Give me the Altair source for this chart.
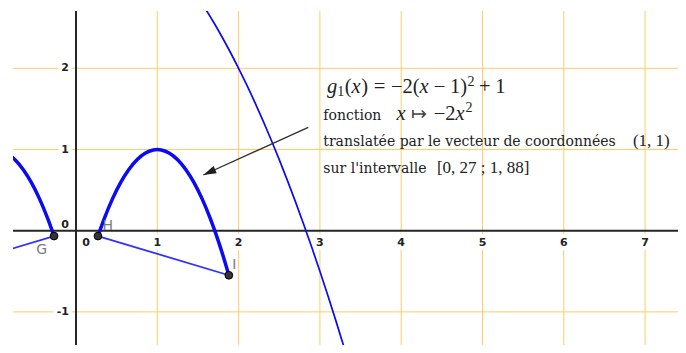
import altair as alt
import pandas as pd

# ---------------- values ----------------
# thin steep curve
thin_x = [1.5, 1.6, 1.7, 1.8, 1.9, 2.0, 2.1, 2.2, 2.3, 2.4, 2.5, 2.6, 2.7, 2.8, 2.9, 3.0, 3.1, 3.2, 3.3, 3.4]
thin_y = [2.875, 2.72, 2.555, 2.38, 2.195, 2.0, 1.795, 1.58, 1.355, 1.12, 0.875, 0.62, 0.355, 0.08,
          -0.205, -0.5, -0.805, -1.12, -1.445, -1.78]

# thick arc g1 on [0.27 ; 1.88]
g1_x = [0.27, 0.35, 0.45, 0.55, 0.65, 0.75, 0.85, 0.95, 1.0, 1.05, 1.15, 1.25, 1.35, 1.45, 1.55, 1.65, 1.75, 1.82, 1.88]
g1_y = [-0.066, 0.155, 0.395, 0.595, 0.755, 0.875, 0.955, 0.995, 1.0, 0.995, 0.955, 0.875, 0.755, 0.595,
        0.395, 0.155, -0.125, -0.345, -0.549]

# thick arc on the left (ends at G)
left_x = [-1.0, -0.95, -0.85, -0.75, -0.65, -0.55, -0.45, -0.35, -0.27]
left_y = [1.0, 0.995, 0.955, 0.875, 0.755, 0.595, 0.395, 0.155, -0.066]

# segments
seg_left_x = [-1.88, -0.27]
seg_left_y = [-0.549, -0.066]
seg_hi_x = [0.27, 1.88]
seg_hi_y = [-0.066, -0.549]

# points
pt_names = ["G", "H", "I"]
pt_x = [-0.27, 0.27, 1.88]
pt_y = [-0.066, -0.066, -0.549]
pt_label_x = [-0.422, 0.390, 1.947]
pt_label_y = [-0.238, 0.062, -0.422]

# axes
x_ticks = [1, 2, 3, 4, 5, 6, 7]
y_ticks = [-1, 1, 2]

# arrow (start -> tip)
arrow_x = [2.857, 1.566]
arrow_y = [1.273, 0.686]

# annotation pieces: (text, x, y, group)
L1, L1sub, L1sup = 1.702, 1.665, 1.788
L2, L2sup = 1.369, 1.462
L3, L4 = 1.037, 0.707
notes = [
    ("g", 3.0873, L1, "mi"), ("1", 3.2140, L1sub, "ms"), ("(", 3.3063, L1, "mr"),
    ("x", 3.3899, L1, "mi"), (")", 3.5080, L1, "mr"), ("=", 3.6617, L1, "mr"),
    ("−", 3.8745, L1, "mr"), ("2", 4.0160, L1, "mr"), ("(", 4.1427, L1, "mr"),
    ("x", 4.2263, L1, "mi"), ("−", 4.4010, L1, "mr"), ("1", 4.5990, L1, "mr"),
    (")", 4.7257, L1, "mr"), ("2", 4.8155, L1sup, "ms"), ("+", 4.9582, L1, "mr"),
    ("1", 5.1562, L1, "mr"),
    ("fonction", 3.042, L2, "tx"), ("x", 3.9422, L2, "mi"), ("↦", 4.1205, L2, "ar"),
    ("−", 4.3998, L2, "mr"), ("2", 4.5424, L2, "mr"), ("x", 4.6679, L2, "mi"), ("2", 4.7921, L2sup, "ms"),
    ("translatée par le vecteur de coordonnées", 3.042, L3, "tx"), ("(1, 1)", 6.851, L3, "mt"),
    ("sur l'intervalle", 3.042, L4, "tx"), ("[0, 27 ; 1, 88]", 4.440, L4, "mt"),
]

# ---------------- tables ----------------
thin_df = pd.DataFrame({"x": thin_x, "y": thin_y})
g1_df = pd.DataFrame({"x": g1_x, "y": g1_y})
left_df = pd.DataFrame({"x": left_x, "y": left_y})
segl_df = pd.DataFrame({"x": seg_left_x, "y": seg_left_y})
seghi_df = pd.DataFrame({"x": seg_hi_x, "y": seg_hi_y})
pts_df = pd.DataFrame({"n": pt_names, "x": pt_x, "y": pt_y, "lx": pt_label_x, "ly": pt_label_y})
xt_df = pd.DataFrame({"v": x_ticks, "z": [0] * len(x_ticks), "t": [str(v) for v in x_ticks]})
yt_df = pd.DataFrame({"v": y_ticks, "z": [0] * len(y_ticks), "t": [str(v) for v in y_ticks]})
zero_df = pd.DataFrame({"v": [0], "t": ["0"]})
arrow_df = pd.DataFrame({"x": [arrow_x[0]], "y": [arrow_y[0]], "x2": [arrow_x[1]], "y2": [arrow_y[1]]})
tip_df = pd.DataFrame({"x": [arrow_x[1]], "y": [arrow_y[1]]})
notes_df = pd.DataFrame(notes, columns=["t", "x", "y", "g"])

xs = alt.Scale(domain=[-0.775, 7.405], nice=False, zero=False)
ys = alt.Scale(domain=[-1.408, 2.706], nice=False, zero=False)


def X(f):
    return alt.X(f, type="quantitative", scale=xs, axis=None)


def Y(f):
    return alt.Y(f, type="quantitative", scale=ys, axis=None)


GRID = "#ffcc66"
BLUE = "#0a0af5"

vgrid = alt.Chart(xt_df).mark_rule(color=GRID, strokeWidth=1).encode(x=X("v"))
hgrid = alt.Chart(yt_df).mark_rule(color=GRID, strokeWidth=1).encode(y=Y("v"))

lab_font = dict(font="DejaVu Sans", fontSize=11, fontWeight="bold")
xl_halo = alt.Chart(xt_df).mark_text(dy=12, baseline="middle", align="center", color="white",
                                     stroke="white", strokeWidth=8, **lab_font).encode(x=X("v"), y=Y("z"), text="t:N")
xl = alt.Chart(xt_df).mark_text(dy=12, baseline="middle", align="center", color="#222",
                                **lab_font).encode(x=X("v"), y=Y("z"), text="t:N")
yl_halo = alt.Chart(yt_df).mark_text(dx=-7, baseline="middle", align="right", color="white",
                                     stroke="white", strokeWidth=7, **lab_font).encode(x=X("z"), y=Y("v"), text="t:N")
yl = alt.Chart(yt_df).mark_text(dx=-7, baseline="middle", align="right", color="#222",
                                **lab_font).encode(x=X("z"), y=Y("v"), text="t:N")
x0 = alt.Chart(zero_df).mark_text(dx=10, dy=12, baseline="middle", align="center", color="#222",
                                  **lab_font).encode(x=X("v"), y=Y("v"), text="t:N")
y0 = alt.Chart(zero_df).mark_text(dx=-7, dy=-6, baseline="middle", align="right", color="#222",
                                  **lab_font).encode(x=X("v"), y=Y("v"), text="t:N")

xaxis = alt.Chart(zero_df).mark_rule(color="#262626", strokeWidth=2).encode(y=Y("v"))
yaxis = alt.Chart(zero_df).mark_rule(color="#262626", strokeWidth=2).encode(x=X("v"))

thin = alt.Chart(thin_df).mark_line(color=BLUE, strokeWidth=1.7, clip=True, interpolate="monotone").encode(
    x=X("x"), y=Y("y"), order="x:Q")
g1 = alt.Chart(g1_df).mark_line(color=BLUE, strokeWidth=3.5, clip=True, interpolate="monotone").encode(
    x=X("x"), y=Y("y"), order="x:Q")
left = alt.Chart(left_df).mark_line(color=BLUE, strokeWidth=3.5, clip=True, interpolate="monotone").encode(
    x=X("x"), y=Y("y"), order="x:Q")
segl = alt.Chart(segl_df).mark_line(color="#3030ff", strokeWidth=1.8, clip=True).encode(x=X("x"), y=Y("y"))
seghi = alt.Chart(seghi_df).mark_line(color="#3030ff", strokeWidth=1.8, clip=True).encode(x=X("x"), y=Y("y"))

pts = alt.Chart(pts_df).mark_point(filled=True, shape="circle", size=60, color="#333333",
                                   stroke="#000000", strokeWidth=1, opacity=1).encode(x=X("x"), y=Y("y"))
pt_labels = alt.Chart(pts_df).mark_text(font="DejaVu Sans", fontSize=14, color="#7a7a7a",
                                        baseline="middle", align="center").encode(x=X("lx"), y=Y("ly"), text="n:N")

arrow = alt.Chart(arrow_df).mark_rule(color="#303030", strokeWidth=1.3).encode(
    x=X("x"), y=Y("y"), x2="x2", y2="y2")
tip = alt.Chart(tip_df).mark_point(shape="M0,0L-0.3,1L0.3,1Z", size=676, angle=245.6, filled=True,
                                   color="#202020", opacity=1).encode(x=X("x"), y=Y("y"))

styles = {
    "mi": dict(font="Liberation Serif", fontSize=20.5, fontStyle="italic", color="#222"),
    "mr": dict(font="Liberation Serif", fontSize=20.5, color="#222"),
    "ms": dict(font="Liberation Serif", fontSize=14, color="#222"),
    "mt": dict(font="Liberation Serif", fontSize=17, color="#222"),
    "ar": dict(font="DejaVu Sans", fontSize=19, color="#444"),
    "tx": dict(font="DejaVu Serif", fontSize=14, color="#222"),
}
note_layers = []
for g, st in styles.items():
    note_layers.append(
        alt.Chart(notes_df).transform_filter(alt.datum.g == g).mark_text(
            align="left", baseline="alphabetic", **st).encode(x=X("x"), y=Y("y"), text="t:N"))

chart = alt.layer(
    vgrid, hgrid, xl_halo, yl_halo, xl, yl, x0, y0, xaxis, yaxis,
    segl, seghi, thin, left, g1, pts, pt_labels, arrow, tip, *note_layers
).properties(
    width=665, height=334,
    padding={"left": 5, "top": 3, "right": 0, "bottom": 0},
    autosize=alt.AutoSizeParams(type="none"),
    background="white",
).configure_view(stroke=None)

chart.save("out.html", embed_options={"renderer": "svg", "actions": False})
